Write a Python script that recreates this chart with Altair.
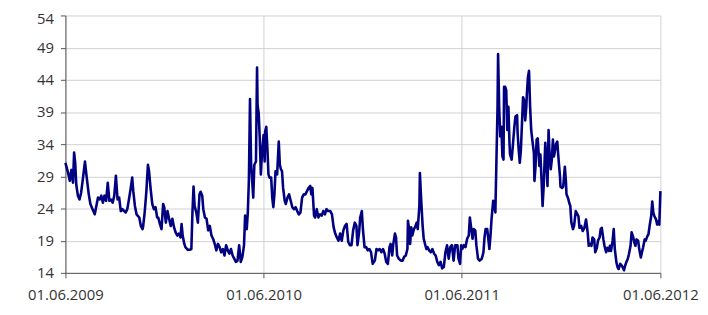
import altair as alt
import pandas as pd

START = "2009-06-01"

# day offsets from 01.06.2009 and index levels
days_a = [0,5,8,11,14,16,18,20,23,26,29,32,36,39,43,46,50,54,57,60,63,66,69,72,75,78,81,84,87,90,
          93,96,99,102,105,108,111,114,117,120,123,125,128,131,136,139,142,143,146,149,152,154,157,160,163,166,169]
vals_a = [31.1,29.5,28.3,30,28,32.7,31.1,27.7,26,25.4,26.5,28.5,31.3,29,26.2,24.7,23.9,23.1,24.4,25.7,
          25.4,26,24.9,26,25.2,28,25.2,25.4,24.9,26,29.1,25.4,25.7,23.6,23.9,23.6,23.4,23.9,25.4,27,
          28.8,26.7,24.4,23.1,22.6,21.3,20.8,21.1,23.4,26.5,30.8,29.8,27,24.7,23.9,24.2,22.6]

days_b = [171,174,177,180,182,185,188,191,194,197,200,203,206,209,212,214,216,219,221,225,
          229,232,234,236,238,241,244,247,249,252,254,257,260,263,266,269,272,275,278,281,
          284,287,290,293,296,299,302,305,308,311,314,317,320,323,326,329,331,334,336,338,340,342]
vals_b = [22.6,21.6,20.8,24.7,24.2,21.8,23.6,22.4,21.3,22.4,21.1,20.3,19.8,20.1,19.5,21.6,19.8,18.5,18,17.6,
          17.6,17.7,23.4,27.4,24.4,23.4,21.8,26.2,26.6,26,23.9,22.6,22.4,20.6,21.3,19.8,19.3,18.5,17.5,18.5,
          18,17.2,17.7,16.7,18.3,17.5,17,17.7,16.7,16.2,15.7,15.9,18.3,15.7,16.5,18.3,22.9,20.8,23.4,28.5,41,31]

days_c = [346,348,351,353,354,356,358,360,362,365,367,368,370,372,374,376,379,381,383,385,
          387,390,393,395,397,399,401,404,406,409,412,415,418,421,424,427,430,433,436,439,
          442,445,448,451,453,455,458,460,463,466,469,472,475,478,481,484,488,491,494,497,
          500,503,506,509,512,515,518,521,524,527,530,533]
vals_c = [25.7,30.8,31.3,45.9,40,38.8,34.9,29.3,32.4,35.4,31.3,36,36.7,33.4,29.3,28.8,28.8,25.7,24.2,26.2,
          29.8,29.3,34.4,30.8,30.1,29.8,27.2,25.2,24.7,25.7,26.2,25.2,24.2,23.9,24.2,23.6,23.1,23.4,25.7,26.2,
          26.2,26.7,27.2,27.5,26.2,27.2,22.9,22.6,23.9,22.6,23.1,22.9,23.6,23.1,23.9,23.6,23.6,23.1,21.1,20.1,
          19.5,19,20.1,19,20.6,21.3,21.6,18.8,18.3,18.3,20.6,21.8]

days_d = [536,538,541,543,546,548,551,554,557,560,563,566,570,573,576,579,582,585,588,591,
          594,597,599,602,604,607,609,611,614,618,621,624,627,630,631,633,635,637,639,642,
          644,647,649,652,653,655,658,660,663,665,667,670,673,676,679,682,685,688,691,694,
          697,700,703,706,709,712,715,718]
vals_d = [21.3,18.3,20.3,22.6,23.6,20.8,18,18,17.5,17.7,17.2,15.4,15.9,17.7,17.5,17.7,17.2,17.7,17,15.7,
          15.4,18,18.5,16.7,18.5,20.1,19.5,16.7,16.2,15.9,15.9,16.5,16.7,17.7,22.1,20.8,18.5,21.1,19.8,20.8,
          21.1,21.8,20.8,24.4,29.5,25.9,21.3,19.3,18.3,17.7,18,17.5,17.2,17.7,17,16.7,15.7,15.2,15.7,14.7,
          14.9,17.2,18.3,16.2,18,18.3,15.9,18.3]

days_e = [722,724,727,729,731,734,737,740,743,745,748,750,752,755,757,760,763,767,770,772,
          774,777,779,781,783,785,788,790,792,794,796,797,799,801,803,805,807,808,810,812,
          814,816,818,819,822,824,827,829,832,833,835,837,839,841,843,845,847,849,850,852,
          854,856,858,860,863,864,866,868,870,872,873,875,877,879,881,883,884,886,888,890,
          892,894,896,898,900]
vals_e = [18.3,16.2,15.4,18.3,17.7,18.3,18,19.3,19.8,22.6,20.6,19.3,20.8,20.6,18.3,16.2,15.9,16.2,17.2,19.5,
          20.8,20.8,19.3,17.7,19.8,22.4,25.2,24.7,23.4,31.6,39.8,48,39.8,35.2,36.7,32.1,31.6,42.9,42.9,42.4,
          36.2,39.8,34.2,32.4,31.6,33.6,36.7,38.3,38.5,35.7,33.1,31.1,33.1,37.2,41.3,40.8,37.7,39.8,41.8,44.4,
          45.4,39.8,36.2,34.7,32.6,28.3,30.6,34.7,34.9,32.1,30.6,32.4,28.5,24.4,27.5,32.1,34.2,31.1,27.5,36.2,
          32.1,30.1,31.6,34.7,32.1]

days_f = [901,904,906,908,911,912,915,917,920,922,923,926,928,930,932,935,937,940,942,945,
          947,950,953,956,959,962,964,967,969,971,974,976,979,981,984,986,988,991,993,996,
          998,1001,1003,1005,1008,1010,1012,1015,1017,1019,1022,1025,1029,1031,1033,1036,1038,1041,1043,1046,
          1048,1050,1052,1055,1057,1060,1062,1064,1067,1069,1072,1074,1077,1079,1081,1083,1085,1088,1090,1092,
          1094,1096]
vals_f = [32.6,34.1,34.4,32.1,29,27.4,27.2,27.4,30.5,28.2,26.2,25.6,24.9,24.4,21.8,20.8,21.3,23.6,23.3,22.8,
          21,21.3,20.5,21,22.3,20.3,18.2,18.5,18.2,19.5,19.2,17.2,17.9,19,19.5,20.8,21,19.2,18.2,17.2,
          17.9,17.4,18.2,17.4,19,20.8,17.7,15.6,14.9,14.6,15.4,15.1,14.4,15.1,15.6,16.2,16.9,18.2,20.3,19.5,
          18.7,18.2,19.2,19,17.7,16.4,17.2,17.9,19.2,19,19.7,20,21.8,22.8,25.1,23.3,22.8,22.3,21.5,22,
          21.5,26.7]

y_ticks = [14, 19, 24, 29, 34, 39, 44, 49, 54]

days = days_a + days_b + days_c + days_d + days_e + days_f
vals = vals_a + vals_b + vals_c + vals_d + vals_e + vals_f
dates = (pd.Timestamp(START) + pd.to_timedelta(days, unit="D")).strftime("%Y-%m-%d")
df = pd.DataFrame({"date": list(dates), "value": vals})

def d(y):
    return alt.DateTime(year=y, month=6, date=1, utc=True)

x_ticks = [d(2009), d(2010), d(2011), d(2012)]

chart = alt.Chart(df).mark_line(color="#000080", strokeWidth=2.6, strokeJoin="round").encode(
    x=alt.X("date:T",
            scale=alt.Scale(type="utc", domain=[d(2009), d(2012)]),
            axis=alt.Axis(values=x_ticks, labelExpr="utcFormat(datum.value, '%d.%m.%Y')", title=None,
                          labelFlush=False, labelOverlap=False, grid=True, gridColor="#d0d0d0",
                          domainColor="#555555", tickColor="#555555", tickSize=5,
                          labelPadding=10, labelFontSize=15, labelColor="#333333",
                          labelFont="Open Sans")),
    y=alt.Y("value:Q",
            scale=alt.Scale(domain=[14, 54], nice=False, zero=False),
            axis=alt.Axis(values=y_ticks, title=None, grid=True, gridColor="#d0d0d0",
                          domainColor="#555555", tickColor="#555555", tickSize=5,
                          labelPadding=7, labelFontSize=15, labelColor="#333333",
                          labelFont="Open Sans",
                          labelOffset={"condition": {"test": "datum.value == 54", "value": 3},
                                       "value": 0})),
).properties(
    width=601, height=260,
    autosize=alt.AutoSizeParams(type="none"),
    padding={"left": 58, "top": 6, "right": 40, "bottom": 38},
).configure_view(strokeWidth=0)

chart.save("out.html", embed_options={"renderer": "svg", "actions": False})
